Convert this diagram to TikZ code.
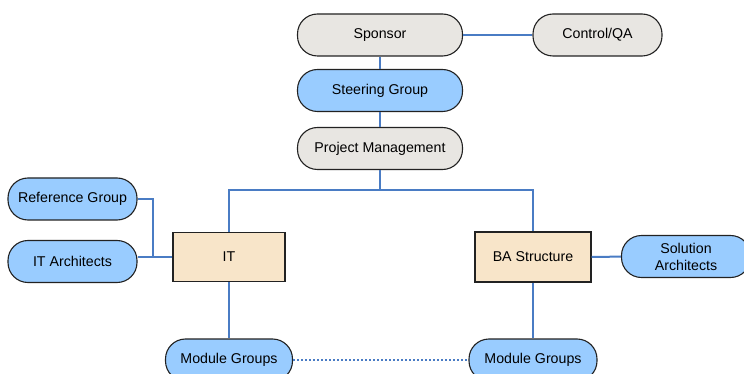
\documentclass[tikz,border=0pt]{standalone}
\usepackage{fontspec}
\setmainfont{Liberation Sans}
\definecolor{bluefill}{HTML}{99CCFF}
\definecolor{grayfill}{HTML}{E8E6E2}
\definecolor{beige}{HTML}{F8E5C9}
\definecolor{linkblue}{HTML}{4A7CC4}
\definecolor{edge}{HTML}{222222}
\begin{document}
\begin{tikzpicture}[x=1pt,y=-1pt,
  pill/.style={draw=edge,line width=1.1pt,rectangle,rounded corners=20pt,minimum height=42pt,inner sep=0pt,font=\fontsize{14.2}{17}\selectfont,align=center},
  bluepill/.style={pill,fill=bluefill},
  graypill/.style={pill,fill=grayfill},
  boxnode/.style={draw=edge,line width=1.1pt,fill=beige,rectangle,inner sep=0pt,font=\fontsize{14.2}{17}\selectfont},
  link/.style={draw=linkblue,line width=2pt}]
\clip (0,0) rectangle (744,374);
\useasboundingbox (0,0) rectangle (744,374);
\node[graypill,minimum width=165pt] (sponsor) at (380,35) {Sponsor};
\node[graypill,minimum width=129pt] (qa) at (597.5,35) {Control/QA};
\node[bluepill,minimum width=165pt] (steer) at (380,90.5) {Steering Group};
\node[graypill,minimum width=165pt] (pm) at (380,148.5) {Project Management};
\node[bluepill,minimum width=129pt] (ref) at (72.5,199) {Reference Group};
\node[bluepill,minimum width=129pt] (itarch) at (72.5,261.5) {IT Architects};
\node[boxnode,minimum width=112pt,minimum height=49pt] (it) at (229,257) {IT};
\node[boxnode,minimum width=116pt,minimum height=50pt] (ba) at (533,257) {BA Structure};
\node[bluepill,minimum width=129pt] (sol) at (686,256.5) {Solution\\Architects};
\node[bluepill,minimum width=127pt] (mg1) at (229,360) {Module Groups};
\node[bluepill,minimum width=128pt] (mg2) at (533,360) {Module Groups};
\coordinate (bus) at (380,190);
\draw[link] (sponsor) -- (qa);
\draw[link] (sponsor) -- (steer);
\draw[link] (steer) -- (pm);
\draw[link] (pm) -- (bus);
\draw[link] (it.north) |- (bus) -| (ba.north);
\draw[link] (ref.east) -- ++(15,0) |- (it.west);
\draw[link] (itarch.east |- it.west) -- (it.west);
\draw[link] (ba) -- (sol);
\draw[link] (it) -- (mg1);
\draw[link] (ba) -- (mg2);
\draw[draw=linkblue,line width=1.3pt,dash pattern=on 2pt off 2pt] (mg1) -- (mg2);
\end{tikzpicture}
\end{document}
